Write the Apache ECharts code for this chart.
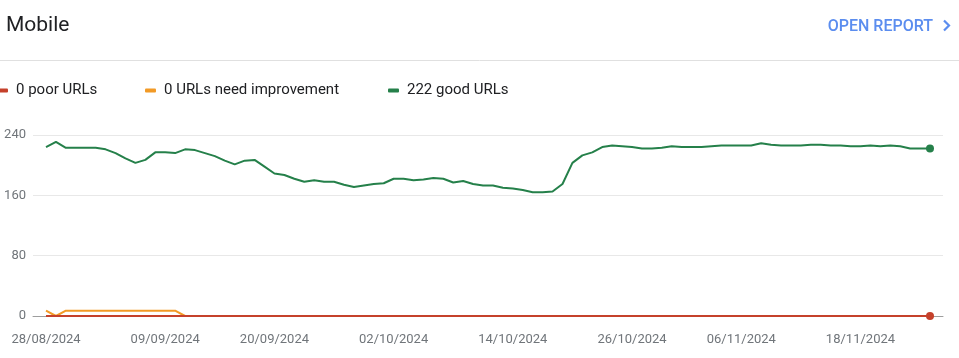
<!DOCTYPE html>
<html>
<head>
<meta charset="utf-8">
<script src="https://cdn.jsdelivr.net/npm/echarts@6/dist/echarts.min.js"></script>
<style>
html,body{margin:0;padding:0;background:#fff;}
#chart{width:959px;height:358px;}
</style>
</head>
<body>
<div id="chart"></div>
<script>
const dates = [
'28/08/2024','29/08/2024','30/08/2024','31/08/2024',
'01/09/2024','02/09/2024','03/09/2024','04/09/2024','05/09/2024','06/09/2024','07/09/2024','08/09/2024','09/09/2024','10/09/2024',
'11/09/2024','12/09/2024','13/09/2024','14/09/2024','15/09/2024','16/09/2024','17/09/2024','18/09/2024','19/09/2024','20/09/2024',
'21/09/2024','22/09/2024','23/09/2024','24/09/2024','25/09/2024','26/09/2024','27/09/2024','28/09/2024','29/09/2024','30/09/2024',
'01/10/2024','02/10/2024','03/10/2024','04/10/2024','05/10/2024','06/10/2024','07/10/2024','08/10/2024','09/10/2024','10/10/2024',
'11/10/2024','12/10/2024','13/10/2024','14/10/2024','15/10/2024','16/10/2024','17/10/2024','18/10/2024','19/10/2024','20/10/2024',
'21/10/2024','22/10/2024','23/10/2024','24/10/2024','25/10/2024','26/10/2024','27/10/2024','28/10/2024','29/10/2024','30/10/2024','31/10/2024',
'01/11/2024','02/11/2024','03/11/2024','04/11/2024','05/11/2024','06/11/2024','07/11/2024','08/11/2024','09/11/2024','10/11/2024',
'11/11/2024','12/11/2024','13/11/2024','14/11/2024','15/11/2024','16/11/2024','17/11/2024','18/11/2024','19/11/2024','20/11/2024',
'21/11/2024','22/11/2024','23/11/2024','24/11/2024','25/11/2024'
];
const tickLabels = ['28/08/2024','09/09/2024','20/09/2024','02/10/2024','14/10/2024','26/10/2024','06/11/2024','18/11/2024'];
const yTicks = [0, 80, 160, 240];

const goodURLs = [
224,231,223,223,223,223,221,216,209,203,
207,217,217,216,221,220,216,212,206,201,
206,207,198,189,187,182,178,180,178,178,
174,171,173,175,176,182,182,180,181,183,
182,177,179,175,173,173,170,169,167,164,
164,165,175,203,213,217,224,226,225,224,
222,222,223,225,224,224,224,225,226,226,
226,226,229,227,226,226,226,227,227,226,
226,225,225,226,225,226,225,222,222,222
];
const needImprovementURLs = [
7,0,7,7,7,7,7,7,7,7,
7,7,7,7,0,0,0,0,0,0,
0,0,0,0,0,0,0,0,0,0,
0,0,0,0,0,0,0,0,0,0,
0,0,0,0,0,0,0,0,0,0,
0,0,0,0,0,0,0,0,0,0,
0,0,0,0,0,0,0,0,0,0,
0,0,0,0,0,0,0,0,0,0,
0,0,0,0,0,0,0,0,0,0
];
const poorURLs = [
0,0,0,0,0,0,0,0,0,0,
0,0,0,0,0,0,0,0,0,0,
0,0,0,0,0,0,0,0,0,0,
0,0,0,0,0,0,0,0,0,0,
0,0,0,0,0,0,0,0,0,0,
0,0,0,0,0,0,0,0,0,0,
0,0,0,0,0,0,0,0,0,0,
0,0,0,0,0,0,0,0,0,0,
0,0,0,0,0,0,0,0,0,0
];
const seriesNames = ['0 poor URLs', '0 URLs need improvement', '222 good URLs'];
const legendLefts = [-3, 145, 388];
const colors = { poor: '#c5412b', ni: '#f29a26', good: '#25804a' };

const last = dates.length - 1;
const toPairs = arr => arr.map((v, i) => [i, v]);
const endDot = (v, p) => (p.dataIndex === last ? 8 : 0);

const chart = echarts.init(document.getElementById('chart'), null, { renderer: 'canvas' });
const FONT = 'Roboto, "Noto Sans", sans-serif';

chart.setOption({
  animation: false,
  backgroundColor: '#ffffff',
  title: {
    text: 'Mobile',
    left: 6, top: 15, padding: 0,
    textStyle: { fontFamily: FONT, fontSize: 21, fontWeight: 'normal', color: '#202124' }
  },
  graphic: [
    { type: 'line', shape: { x1: 0, y1: 60.5, x2: 959, y2: 60.5 }, style: { stroke: '#e0e0e0', lineWidth: 1 } },
    { type: 'text', right: 26, top: 19,
      style: { text: 'OPEN REPORT', fontFamily: FONT, fontSize: 16, fontWeight: 500, fill: '#5b8def' } },
    { type: 'polyline', shape: { points: [[944, 20.5], [949, 25.5], [944, 30.5]] },
      style: { stroke: '#5b8def', lineWidth: 2.2, fill: null } }
  ],
  legend: seriesNames.map((name, k) => ({
    data: [name],
    left: legendLefts[k], top: 83,
    padding: 0,
    icon: 'roundRect',
    itemWidth: 11, itemHeight: 4,
    selectedMode: false,
    textStyle: { fontFamily: FONT, fontSize: 15, color: '#202124', padding: [0, 0, 0, 3] }
  })),
  grid: { left: 33, right: 16, top: 135, bottom: 42, containLabel: false },
  xAxis: {
    type: 'value',
    min: -1.31, max: last + 1.31,
    axisLine: { show: true, lineStyle: { color: '#9e9e9e', width: 1 } },
    axisTick: { show: false },
    splitLine: { show: false },
    axisLabel: {
      customValues: tickLabels.map(t => dates.indexOf(t)),
      formatter: v => dates[Math.round(v)] || '',
      margin: 17,
      fontFamily: FONT, fontSize: 13, color: '#70757a'
    }
  },
  yAxis: {
    type: 'value',
    min: 0, max: 240, interval: 80,
    axisLine: { show: false },
    axisTick: { show: false },
    splitLine: { show: true, lineStyle: { color: '#e8e8e8', width: 1 } },
    axisLabel: {
      customValues: yTicks,
      margin: 7,
      fontFamily: FONT, fontSize: 13, color: '#70757a'
    }
  },
  series: [
    { name: seriesNames[2], type: 'line', data: toPairs(goodURLs), color: colors.good,
      lineStyle: { width: 2, color: colors.good }, symbol: 'circle', symbolSize: endDot,
      showSymbol: true, showAllSymbol: true, itemStyle: { color: colors.good }, z: 3 },
    { name: seriesNames[1], type: 'line', data: toPairs(needImprovementURLs), color: colors.ni,
      lineStyle: { width: 2, color: colors.ni }, symbol: 'circle', symbolSize: 0,
      showSymbol: false, itemStyle: { color: colors.ni }, z: 2 },
    { name: seriesNames[0], type: 'line', data: toPairs(poorURLs), color: colors.poor,
      lineStyle: { width: 2, color: colors.poor }, symbol: 'circle', symbolSize: endDot,
      showSymbol: true, showAllSymbol: true, itemStyle: { color: colors.poor }, z: 4 }
  ]
});
</script>
</body>
</html>
